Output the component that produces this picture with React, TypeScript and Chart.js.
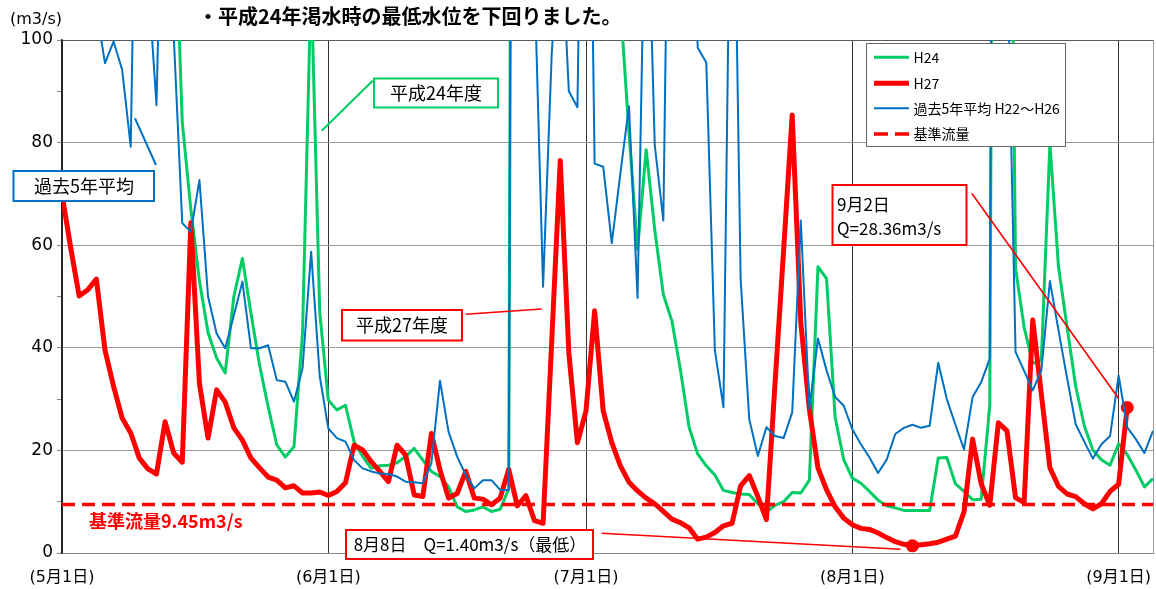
import { useEffect, useRef } from 'react';
import { Chart, registerables } from 'chart.js';

Chart.register(...registerables);

// ---- data (day index 0 = 5月1日) ----
const MONTH_TICKS = [0, 31, 61, 92, 123];
const MONTH_LABELS = ['(5月1日)', '(6月1日)', '(7月1日)', '(8月1日)', '(9月1日)'];
const LAST_DAY = 127;

const H24 = [
  180, 190, 175, 170, 160, 170, 190, 200, 185, 170, 160, 150, 140, 132, 84, 67, 53, 43, 38, 35.1,
  50, 57.4, 46.7, 36.6, 28.5, 21.1, 18.7, 20.7, 43, 112, 47, 29.8, 27.9, 28.8, 21.7, 18.8, 16.5, 17.0, 17.1, 17.6,
  18.8, 20.4, 18.1, 15.9, 14.9, 12.9, 9.0, 8.1, 8.4, 9.0, 8.1, 8.5, 12.5, 500, 300, 260, 230, 220, 240, 230,
  210, 190, 170, 150, 130, 107, 82, 59.2, 78.6, 63, 50.4, 45.2, 35.6, 24.5, 19.3, 17.0, 15.2, 12.2, 11.8, 11.5,
  11.4, 9.6, 8.0, 9.3, 10.0, 11.8, 11.7, 14.2, 55.8, 53.5, 26.4, 18.2, 14.6, 13.6, 12.0, 10.3, 9.2, 8.8, 8.3, 8.3,
  8.3, 8.3, 18.5, 18.6, 13.5, 12.0, 10.4, 10.5, 28.8, 400, 220, 55.5, 44, 37, 37.5, 79.8, 55.8, 44, 32.5, 24.8,
  20.1, 18.2, 17.1, 21.3, 19.2, 16.2, 12.9, 14.5,
];

const H27 = [
  70, 59.6, 50.1, 51.3, 53.4, 39.6, 32.5, 26.3, 23.4, 18.5, 16.4, 15.4, 25.6, 19.5, 17.7, 64.4, 33, 22.4, 31.8, 29.4,
  24.4, 22.0, 18.5, 16.6, 14.8, 14.2, 12.7, 13.1, 11.7, 11.7, 11.9, 11.2, 12.0, 13.7, 21.0, 20.1, 17.8, 15.9, 13.9, 21.0,
  19.1, 11.3, 11.0, 23.3, 16.2, 10.7, 11.6, 15.9, 10.7, 10.5, 9.4, 10.7, 16.3, 9.2, 11.2, 6.3, 5.8, 41, 76.5, 39,
  21.5, 27.7, 47.2, 27.7, 21.5, 17, 13.8, 12.1, 10.7, 9.6, 8.1, 6.6, 5.9, 4.9, 2.7, 3.1, 4.0, 5.3, 5.8, 13.1,
  15.1, 11.0, 6.5, 33, 59, 85.4, 45, 28, 16.6, 12.3, 9.0, 6.8, 5.5, 4.8, 4.6, 3.9, 3.0, 2.2, 1.7, 1.40,
  1.6, 1.8, 2.1, 2.7, 3.3, 8.0, 22.2, 13.5, 9.3, 25.4, 23.8, 10.8, 9.8, 45.4, 31, 16.6, 13.0, 11.5, 11.0, 9.6,
  8.6, 9.6, 12.0, 13.4, 28.36,
];

const AVG5 = [
  130, 140, 125, 115, 106, 95.5, 99.7, 94.2, 79.2, 180, 112.5, 87.3, 160, 101, 64.3, 62.6, 72.7, 50, 42.8, 39.9,
  46.3, 52.9, 39.9, 39.9, 40.5, 33.7, 33.4, 29.5, 36, 58.7, 34.5, 24.3, 22.4, 21.7, 18.1, 16.5, 15.9, 15.5, 15.4, 14.9,
  13.9, 13.8, 13.6, 17.5, 33.6, 23.6, 18.8, 15.2, 12.6, 14.2, 14.2, 12.3, 12.3, 500, 250, 112, 51.9, 97, 125, 90,
  86.9, 200, 75.9, 75.3, 60.4, 74, 87.1, 49.7, 140, 79.5, 64.8, 190, 220, 180, 98.5, 95.6, 39.5, 28.4, 160, 53.3,
  26.1, 18.9, 24.5, 22.8, 22.4, 27.4, 64.8, 28.1, 41.8, 35.6, 30.4, 28.7, 24.1, 21.2, 18.6, 15.6, 18.2, 23.2, 24.4, 25.0,
  24.4, 24.8, 37.1, 30, 25, 20.2, 30.4, 33.3, 37.9, 450, 120, 39.2, 35.5, 31.7, 35.6, 53, 43.4, 34.1, 25.1, 21.7,
  18.4, 21.2, 22.8, 34.6, 24.5, 22.2, 19.5, 23.8,
];

const KIJUN = 9.45;
const MIN_DAY = 99; // 8月8日
const SEP2_DAY = 124; // 9月2日
const MARK_DAYS = [MIN_DAY, SEP2_DAY];

const GREEN = '#00CC66';
const RED = '#FF0000';
const BLUE = '#0070C0';
const JP = '"Noto Sans CJK JP", sans-serif';
const LAT = '"DejaVu Sans", "Noto Sans CJK JP", sans-serif';

const toPoints = (arr: number[]) => arr.map((v, i) => ({ x: i, y: v }));

function seg(ctx: CanvasRenderingContext2D, color: string, w: number, x1: number, y1: number, x2: number, y2: number, dash: number[] = []) {
  ctx.save();
  ctx.strokeStyle = color;
  ctx.lineWidth = w;
  ctx.setLineDash(dash);
  ctx.beginPath();
  ctx.moveTo(x1, y1);
  ctx.lineTo(x2, y2);
  ctx.stroke();
  ctx.restore();
}

function box(ctx: CanvasRenderingContext2D, x: number, y: number, w: number, h: number, color: string) {
  ctx.save();
  ctx.fillStyle = '#fff';
  ctx.fillRect(x, y, w, h);
  ctx.strokeStyle = color;
  ctx.lineWidth = 2;
  ctx.strokeRect(x, y, w, h);
  ctx.restore();
}

function text(ctx: CanvasRenderingContext2D, s: string, x: number, y: number, font: string, color = '#000', align: CanvasTextAlign = 'center') {
  ctx.save();
  ctx.font = font;
  ctx.fillStyle = color;
  ctx.textAlign = align;
  ctx.textBaseline = 'middle';
  ctx.fillText(s, x, y);
  ctx.restore();
}

const annotPlugin = {
  id: 'annot',
  afterDatasetsDraw(chart: any) {
    const ctx: CanvasRenderingContext2D = chart.ctx;
    const xs = chart.scales.x;
    const ys = chart.scales.y;
    const minX = xs.getPixelForValue(MIN_DAY);
    const minY = ys.getPixelForValue(H27[MIN_DAY]);
    const sepX = xs.getPixelForValue(SEP2_DAY);
    const sepY = ys.getPixelForValue(H27[SEP2_DAY]);

    // leader lines
    seg(ctx, GREEN, 2, 321.7, 130.7, 372.7, 80.7);
    seg(ctx, BLUE, 2, 135, 118.3, 156, 165);
    seg(ctx, RED, 1.6, 465.7, 314.3, 541.7, 309);
    seg(ctx, RED, 1.6, 601.7, 533.3, minX - 12, minY + 3.5);
    seg(ctx, RED, 1.6, 971.7, 193.3, sepX - 8.6, sepY - 9);

    // boxes
    box(ctx, 374, 78.5, 124, 29, GREEN);
    text(ctx, '平成24年度', 436, 93, `18px ${JP}`);
    box(ctx, 13.5, 171, 140.5, 30, BLUE);
    text(ctx, '過去5年平均', 84, 186, `18px ${JP}`);
    box(ctx, 342, 310, 120, 30.5, RED);
    text(ctx, '平成27年度', 402, 325.5, `18px ${JP}`);
    box(ctx, 346, 530, 247, 29, RED);
    text(ctx, '8月8日　Q=1.40m3/s（最低）', 470, 545, `17px ${JP}`);
    box(ctx, 832.5, 185, 134, 60, RED);
    text(ctx, '9月2日', 837, 205, `17px ${JP}`, '#000', 'left');
    text(ctx, 'Q=28.36m3/s', 837, 228.5, `17px ${JP}`, '#000', 'left');

    // reference flow label
    text(ctx, '基準流量9.45m3/s', 89, 521.5, `bold 18px ${JP}`, RED, 'left');

    // legend
    ctx.save();
    ctx.fillStyle = '#fff';
    ctx.fillRect(867, 44, 199, 103);
    ctx.strokeStyle = '#666';
    ctx.lineWidth = 1;
    ctx.strokeRect(866.5, 43.5, 199, 103);
    ctx.restore();
    const items: [string, string, number, number[]][] = [
      ['H24', GREEN, 3, []],
      ['H27', RED, 5, []],
      ['過去5年平均 H22～H26', BLUE, 2, []],
      ['基準流量', RED, 3.5, [14, 7]],
    ];
    const ly = [57.3, 83.3, 108.3, 134];
    items.forEach(([label, color, w, dash], i) => {
      seg(ctx, color, w, 874, ly[i], 909, ly[i], dash);
      text(ctx, label, 913.5, ly[i], `14px ${JP}`, '#000', 'left');
    });
  },
  afterDraw(chart: any) {
    const ctx: CanvasRenderingContext2D = chart.ctx;
    text(ctx, '・平成24年渇水時の最低水位を下回りました。', 198, 16.5, `bold 20px ${JP}`, '#000', 'left');
    text(ctx, '(m3/s)', 10, 20, `16px ${LAT}`, '#000', 'left');
  },
};

export default function App() {
  const ref = useRef<HTMLCanvasElement | null>(null);

  useEffect(() => {
    if (!ref.current) return;
    const chart = new Chart(ref.current, {
      type: 'line',
      data: {
        datasets: [
          {
            label: 'H24',
            data: toPoints(H24),
            borderColor: GREEN,
            borderWidth: 3,
            pointRadius: 0,
            tension: 0,
            clip: 0,
            order: 4,
            borderJoinStyle: 'round',
          },
          {
            label: 'H27',
            data: toPoints(H27),
            borderColor: RED,
            backgroundColor: RED,
            borderWidth: 5,
            pointRadius: (c: any) => (MARK_DAYS.includes(c.dataIndex) ? 6.5 : 0),
            pointBackgroundColor: RED,
            pointBorderWidth: 0,
            tension: 0,
            clip: 0,
            order: 3,
            borderJoinStyle: 'round',
            borderCapStyle: 'round',
          },
          {
            label: '過去5年平均 H22～H26',
            data: toPoints(AVG5),
            borderColor: BLUE,
            borderWidth: 2,
            pointRadius: 0,
            tension: 0,
            clip: 0,
            order: 2,
            borderJoinStyle: 'round',
          },
          {
            label: '基準流量',
            data: [
              { x: 0, y: KIJUN },
              { x: LAST_DAY, y: KIJUN },
            ],
            borderColor: RED,
            borderWidth: 3.5,
            borderDash: [13, 7],
            pointRadius: 0,
            clip: 0,
            order: 1,
          },
        ],
      } as any,
      options: {
        responsive: false,
        animation: false,
        events: [],
        layout: { autoPadding: false, padding: { top: 40, right: 3, left: 0, bottom: 0 } },
        plugins: {
          legend: { display: false },
          tooltip: { enabled: false },
        },
        scales: {
          x: {
            type: 'linear',
            min: 0,
            max: LAST_DAY,
            afterBuildTicks: (s: any) => {
              s.ticks = [...MONTH_TICKS, LAST_DAY].map((v) => ({ value: v }));
            },
            afterFit: (s: any) => {
              s.height = 36;
              s.paddingLeft = 0;
              s.paddingRight = 0;
            },
            ticks: {
              autoSkip: false,
              maxRotation: 0,
              padding: 0,
              color: '#000',
              font: { family: LAT, size: 16 },
              callback: (v: any) => {
                const i = MONTH_TICKS.indexOf(Number(v));
                return i >= 0 ? MONTH_LABELS[i] : '';
              },
            },
            grid: {
              drawTicks: true,
              tickLength: 15,
              tickColor: 'rgba(0,0,0,0)',
              lineWidth: 1,
              color: (c: any) => (c.tick && c.tick.value === LAST_DAY ? '#9a9a9a' : '#333'),
            },
            border: { color: '#888', width: 1 },
          },
          y: {
            min: 0,
            max: 100,
            afterFit: (s: any) => {
              s.width = 62;
            },
            ticks: {
              stepSize: 10,
              autoSkip: false,
              padding: 4,
              color: '#000',
              font: { family: LAT, size: 17 },
              callback: (v: any) => (Number(v) % 20 === 0 ? String(v) : ''),
            },
            grid: {
              drawTicks: true,
              tickLength: 5,
              tickColor: '#888',
              lineWidth: 1,
              color: (c: any) => {
                const v = c.tick ? c.tick.value : 0;
                if (v === 100) return '#595959';
                if (v === 0) return '#888';
                return v % 20 === 0 ? '#9a9a9a' : 'rgba(0,0,0,0)';
              },
            },
            border: { color: '#222', width: 1.5 },
          },
        },
      } as any,
      plugins: [annotPlugin],
    });
    return () => chart.destroy();
  }, []);

  return (
    <div style={{ position: 'fixed', left: 0, top: 0, width: 1156, height: 589, background: '#fff' }}>
      <canvas ref={ref} width={1156} height={589} style={{ display: 'block', width: 1156, height: 589 }} />
    </div>
  );
}
